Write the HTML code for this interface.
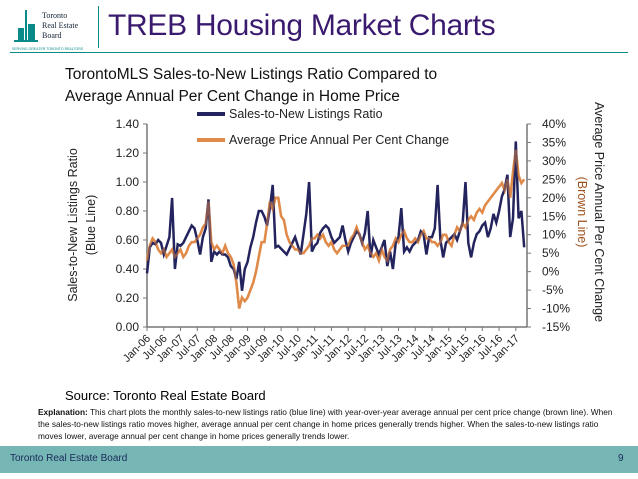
<!DOCTYPE html>
<html><head><meta charset="utf-8"><style>
body{margin:0;width:638px;height:479px;background:#fff;overflow:hidden;font-family:"Liberation Sans",sans-serif;position:relative}
.abs{position:absolute}
</style></head><body>
<div class="abs" style="left:10px;top:6px;width:88px;height:46px">
<svg width="88" height="46"><rect x="15" y="4" width="2" height="30" fill="#0b8a8a"/><rect x="8" y="22" width="6" height="12" fill="#0b8a8a"/><rect x="18" y="18" width="7" height="16" fill="#0b8a8a"/><rect x="4" y="34" width="24" height="2" fill="#0b8a8a"/>
<text x="32" y="12" font-size="8" font-family="Liberation Serif" fill="#123">Toronto</text><text x="32" y="22" font-size="8" font-family="Liberation Serif" fill="#123">Real Estate</text><text x="32" y="32" font-size="8" font-family="Liberation Serif" fill="#123">Board</text><text x="2" y="44" font-size="3.5" fill="#0b8a8a">SERVING GREATER TORONTO REALTORS</text></svg></div>
<div class="abs" style="left:98px;top:6px;width:1px;height:42px;background:#0b8a8a"></div>
<div class="abs" style="left:108px;top:9px;font-size:30px;color:#3a1a6e;font-family:'Liberation Sans',sans-serif;letter-spacing:-0.3px">TREB Housing Market Charts</div>
<div class="abs" style="left:10px;top:52px;width:618px;height:1px;background:#0b8a8a"></div>
<div class="abs" style="left:65px;top:64px;font-size:15.5px;line-height:22px;color:#111">TorontoMLS Sales-to-New Listings Ratio Compared to<br>Average Annual Per Cent Change in Home Price</div>
<svg class="abs" style="left:0;top:0" width="638" height="479" id="chart"></svg>
<div class="abs" style="left:65px;top:388px;font-size:13px">Source: Toronto Real Estate Board</div>
<div class="abs" style="left:38px;top:406px;width:585px;font-size:8.3px;line-height:12px;color:#111"><b>Explanation:</b> This chart plots the monthly sales-to-new listings ratio (blue line) with year-over-year average annual per cent price change (brown line). When the sales-to-new listings ratio moves higher, average annual per cent change in home prices generally trends higher. When the sales-to-new listings ratio moves lower, average annual per cent change in home prices generally trends lower.</div>
<div class="abs" style="left:0;top:446px;width:638px;height:27px;background:#76b6b4"></div>
<div class="abs" style="left:10px;top:453px;font-size:10px;color:#1a2a5a">Toronto Real Estate Board</div>
<div class="abs" style="left:618px;top:453px;font-size:10px;color:#1a2a5a">9</div>
<script>
const leftTicks=["0.00","0.20","0.40","0.60","0.80","1.00","1.20","1.40"];
const rightTicks=["-15%","-10%","-5%","0%","5%","10%","15%","20%","25%","30%","35%","40%"];
const xLabels=["Jan-06","Jul-06","Jan-07","Jul-07","Jan-08","Jul-08","Jan-09","Jul-09","Jan-10","Jul-10","Jan-11","Jul-11","Jan-12","Jul-12","Jan-13","Jul-13","Jan-14","Jul-14","Jan-15","Jul-15","Jan-16","Jul-16","Jan-17"];
const ratio=[.37,.55,.58,.57,.60,.58,.50,.56,.62,.89,.40,.57,
.56,.58,.62,.66,.70,.68,.60,.50,.62,.68,.88,.45,
.52,.50,.52,.50,.50,.48,.42,.40,.33,.45,.25,.40,
.45,.55,.62,.72,.80,.80,.76,.70,.82,.98,.55,.56,
.54,.52,.50,.54,.58,.62,.56,.50,.64,.78,1.00,.52,
.56,.58,.65,.68,.70,.68,.62,.58,.60,.62,.70,.60,
.52,.58,.62,.66,.64,.58,.65,.80,.48,.60,.55,.50,
.55,.60,.42,.52,.40,.58,.62,.82,.52,.55,.52,.56,
.58,.60,.66,.64,.50,.62,.62,.68,.98,.60,.48,.58,
.60,.62,.64,.60,.66,.72,1.00,.58,.48,.58,.64,.66,
.70,.72,.62,.68,.78,.72,.80,.90,.95,1.05,.62,.75,
1.28,.75,.80,.55];
const price=[3,7,9,8,6,5,6,4,5,6,4,5,
6,4,5,7,8,8,9,10,12,13,19,8,
6,7,6,5,7,5,4,2,-3,-10,-7,-8,
-7,-5,-3,0,4,8,8,13,19,17,20,20,
15,14,10,8,7,6,6,5,5,6,7,9,
9,10,9,10,8,7,8,6,5,6,7,7,
7,9,10,12,10,8,6,7,5,4,5,3,
6,4,3,6,7,9,8,10,11,9,8,8,
9,8,10,11,9,9,8,8,7,8,10,10,
8,7,10,12,11,13,12,14,15,14,16,17,
16,18,19,20,21,22,23,24,22,25,20,27,
33,26,24,25];
const svg=document.getElementById('chart');
const NS='http://www.w3.org/2000/svg';
const X0=147,X1=527,Y0=327,Y1=124,N=136;
const xs=i=>X0+i*(X1-X0)/N;
const yl=v=>Y0-v/1.4*(Y0-Y1);
const yr=v=>Y0-(v+15)/55*(Y0-Y1);
function mk(t,a,txt){const e=document.createElementNS(NS,t);for(const k in a)e.setAttribute(k,a[k]);if(txt!=null)e.textContent=txt;svg.appendChild(e);return e;}
let e;
e=mk('line',{x1:X0,y1:Y1,x2:X0,y2:Y0,stroke:'#777','stroke-width':1.5});


e=mk('line',{x1:X1,y1:Y1,x2:X1,y2:Y0,stroke:'#777','stroke-width':1.5});


e=mk('line',{x1:X0,y1:Y0,x2:X1,y2:Y0,stroke:'#777','stroke-width':1.5});


leftTicks.forEach((t,i)=>{const y=yl(i*0.2);mk('line',{x1:X0-4,y1:y,x2:X0,y2:y,stroke:'#777'});
e=mk('text',{x:X0-8,y:y+4,'font-size':12,'text-anchor':'end',fill:'#222'},t);

});
rightTicks.forEach((t,i)=>{const y=yr(-15+i*5);mk('line',{x1:X1,y1:y,x2:X1+4,y2:y,stroke:'#777'});
e=mk('text',{x:X1+15,y:y+4,'font-size':12,fill:'#222'},t);

});
xLabels.forEach((t,i)=>{const x=xs(i*6);mk('line',{x1:x,y1:Y0,x2:x,y2:Y0+4,stroke:'#777'});
e=mk('text',{x:x+4,y:Y0+12,'font-size':11,'text-anchor':'end',fill:'#222',transform:`rotate(-45 ${x+4} ${Y0+12})`},t);

});
e=mk('path',{d:price.map((v,i)=>(i?'L':'M')+xs(i).toFixed(1)+' '+yr(v).toFixed(1)).join(''),fill:'none',stroke:'#e08a4a','stroke-width':2.5});


e=mk('path',{d:ratio.map((v,i)=>(i?'L':'M')+xs(i).toFixed(1)+' '+yl(v).toFixed(1)).join(''),fill:'none',stroke:'#23235e','stroke-width':2.5});


mk('path',{d:price.map((v,i)=>(i?'L':'M')+xs(i).toFixed(1)+' '+yr(v).toFixed(1)).join(''),fill:'none',stroke:'#e08a4a','stroke-width':2.5,opacity:.5});
mk('line',{x1:197,y1:114,x2:225,y2:114,stroke:'#23235e','stroke-width':4});
e=mk('text',{x:229,y:118,'font-size':12.5,fill:'#222'},'Sales-to-New Listings Ratio');


mk('line',{x1:197,y1:140,x2:225,y2:140,stroke:'#e08a4a','stroke-width':4});
e=mk('text',{x:229,y:144,'font-size':12.5,fill:'#222'},'Average Price Annual Per Cent Change');


e=mk('text',{x:0,y:0,'font-size':12.5,'text-anchor':'middle',fill:'#222',transform:'translate(77 225) rotate(-90)'},'Sales-to-New Listings Ratio');


e=mk('text',{x:0,y:0,'font-size':12.5,'text-anchor':'middle',fill:'#222',transform:'translate(95 225) rotate(-90)'},'(Blue Line)');


e=mk('text',{x:0,y:0,'font-size':12.5,'text-anchor':'middle',fill:'#222',transform:'translate(595 212) rotate(90)'},'Average Price Annual Per Cent Change');


e=mk('text',{x:0,y:0,'font-size':12.5,'text-anchor':'middle',fill:'#a0521e',transform:'translate(578 212) rotate(90)'},'(Brown Line)');


</script>
</body></html>
